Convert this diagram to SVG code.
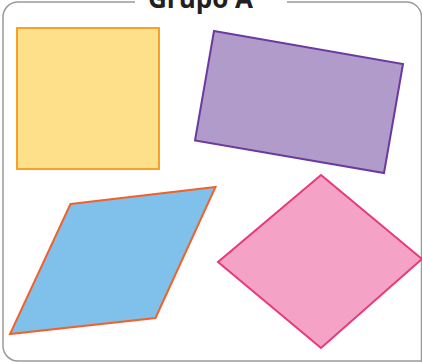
<svg xmlns="http://www.w3.org/2000/svg" width="422" height="362" viewBox="0 0 422 362">
<style>
.frame{fill:none;stroke:#9a9a9a;stroke-width:1.5}
.title{font-family:"Open Sans","Liberation Sans",sans-serif;font-weight:bold;font-size:26px;fill:#231f20}
.shape{stroke-width:2;stroke-linejoin:miter}
</style>
<rect width="422" height="362" fill="#ffffff"/>
<g id="frame">
<path class="frame" d="M135,2 H18 A15,15 0 0 0 3,17 V346 A15,15 0 0 0 18,361 H421 M287,2 H406 A15,15 0 0 1 421.5,17 V362"/>
<text class="title" x="200.5" y="7.5" text-anchor="middle">Grupo A</text>
</g>
<g id="square">
<rect class="shape" x="17" y="28" width="142" height="141" fill="#ffe08a" stroke="#f5a12a"/>
</g>
<g id="rectangle">
<polygon class="shape" points="214,31 403,64 384,173 195,140.5" fill="#b19bcb" stroke="#6b3a9e"/>
</g>
<g id="parallelogram">
<polygon class="shape" points="70.5,204 215.5,187 155.5,318 10,334" fill="#7fc1ea" stroke="#f0622a"/>
</g>
<g id="rhombus">
<polygon class="shape" points="321,175 422,259 321,348 218,262" fill="#f4a3c7" stroke="#e8387c"/>
</g>
</svg>
